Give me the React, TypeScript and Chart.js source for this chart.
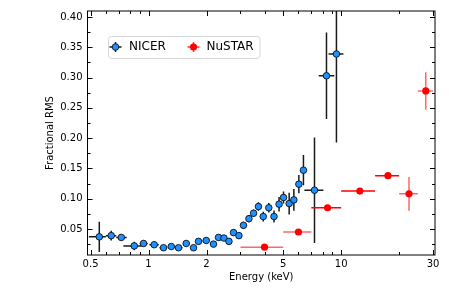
import React, { useEffect, useRef } from "react";
import { Chart, registerables } from "chart.js";
Chart.register(...registerables);

// ---------- data ----------
const nicerEnergy = [0.555, 0.64, 0.722, 0.843, 0.942, 1.07, 1.196, 1.312, 1.431, 1.569, 1.712, 1.817, 1.993, 2.174, 2.308, 2.462, 2.614, 2.761, 2.945, 3.11, 3.32, 3.51, 3.72, 3.94, 4.21, 4.48, 4.76, 5.02, 5.37, 5.68, 6.03, 6.37, 7.27, 8.39, 9.45];
const nicerRms = [0.037, 0.039, 0.036, 0.022, 0.026, 0.024, 0.019, 0.021, 0.019, 0.026, 0.019, 0.0295, 0.031, 0.025, 0.036, 0.035, 0.0295, 0.044, 0.039, 0.056, 0.067, 0.076, 0.087, 0.0705, 0.085, 0.0705, 0.091, 0.102, 0.092, 0.098, 0.124, 0.147, 0.114, 0.303, 0.339];
const nicerRmsErr = [0.025, 0.008, 0.005, 0.007, 0.005, 0.005, 0.004, 0.004, 0.004, 0.005, 0.005, 0.005, 0.005, 0.005, 0.005, 0.005, 0.005, 0.005, 0.005, 0.006, 0.006, 0.006, 0.007, 0.008, 0.008, 0.01, 0.012, 0.01, 0.018, 0.018, 0.015, 0.025, 0.087, 0.0715, 0.146];
const nicerELo = [0.49, 0.6, 0.68, 0.74, 0.9, 1.01, 1.14, 1.26, 1.38, 1.51, 1.65, 1.77, 1.91, 2.09, 2.25, 2.39, 2.55, 2.69, 2.86, 3.03, 3.22, 3.42, 3.62, 3.83, 4.08, 4.35, 4.62, 4.9, 5.2, 5.52, 5.85, 6.2, 6.44, 7.65, 8.6];
const nicerEHi = [0.6, 0.68, 0.77, 0.92, 0.99, 1.13, 1.25, 1.37, 1.5, 1.64, 1.77, 1.9, 2.08, 2.24, 2.38, 2.54, 2.69, 2.85, 3.03, 3.22, 3.42, 3.62, 3.83, 4.08, 4.35, 4.62, 4.9, 5.2, 5.52, 5.85, 6.2, 6.55, 8.09, 9.21, 10.27];

const nustarEnergy = [4.0, 6.0, 8.5, 12.5, 17.5, 22.5, 27.5];
const nustarRms = [0.02, 0.045, 0.085, 0.1126, 0.138, 0.108, 0.278];
const nustarRmsErr = [0.002, 0.003, 0.003, 0.003, 0.004, 0.028, 0.031];
const nustarELo = [3, 5, 7, 10, 15, 20, 25];
const nustarEHi = [5, 7, 10, 15, 20, 25, 30];
const nustarBarAlpha = [0.6, 0.6, 1, 1, 1, 0.6, 0.6];

const xTickValues = [0.5, 1, 2, 5, 10, 30];
const xMinorTicks = [0.6, 0.7, 0.8, 0.9, 3, 4, 6, 7, 8, 9, 20];
const yTickValues = [0.05, 0.1, 0.15, 0.2, 0.25, 0.3, 0.35, 0.4];
const yMinorTicks = [0.025, 0.075, 0.125, 0.175, 0.225, 0.275, 0.325, 0.375];

const FONT = "'DejaVu Sans', sans-serif";
const NICER_BLUE = "#1e90ff";

const errorBarPlugin = {
  id: "errorBars",
  beforeDatasetsDraw(chart: any) {
    const { ctx, chartArea, scales } = chart;
    const xs = scales.x, ys = scales.y;
    ctx.save();
    ctx.beginPath();
    ctx.rect(chartArea.left, chartArea.top, chartArea.right - chartArea.left, chartArea.bottom - chartArea.top);
    ctx.clip();
    ctx.lineWidth = 1.5;
    const drawSet = (E: number[], V: number[], Err: number[], Lo: number[], Hi: number[], color: (i: number) => string) => {
      for (let i = 0; i < E.length; i++) {
        ctx.strokeStyle = color(i);
        const x = xs.getPixelForValue(E[i]);
        const y = ys.getPixelForValue(V[i]);
        ctx.beginPath();
        ctx.moveTo(xs.getPixelForValue(Lo[i]), y);
        ctx.lineTo(xs.getPixelForValue(Hi[i]), y);
        ctx.moveTo(x, ys.getPixelForValue(V[i] - Err[i]));
        ctx.lineTo(x, ys.getPixelForValue(V[i] + Err[i]));
        ctx.stroke();
      }
    };
    drawSet(nicerEnergy, nicerRms, nicerRmsErr, nicerELo, nicerEHi, () => "#1a1a1a");
    drawSet(nustarEnergy, nustarRms, nustarRmsErr, nustarELo, nustarEHi, (i) => `rgba(255,0,0,${nustarBarAlpha[i]})`);
    ctx.restore();
  },
};

const framePlugin = {
  id: "frame",
  afterDatasetsDraw(chart: any) {
    const { ctx, chartArea, scales } = chart;
    const { left, right, top, bottom } = chartArea;
    const xs = scales.x, ys = scales.y;
    ctx.save();
    ctx.strokeStyle = "#000";
    ctx.lineWidth = 1;
    ctx.strokeRect(left, top, right - left, bottom - top);
    const major = 5, minor = 3;
    ctx.beginPath();
    const xt = (v: number, len: number) => {
      const x = Math.round(xs.getPixelForValue(v)) + 0.5;
      ctx.moveTo(x, bottom); ctx.lineTo(x, bottom - len);
      ctx.moveTo(x, top); ctx.lineTo(x, top + len);
    };
    const yt = (v: number, len: number) => {
      const y = Math.round(ys.getPixelForValue(v)) + 0.5;
      ctx.moveTo(left, y); ctx.lineTo(left + len, y);
      ctx.moveTo(right, y); ctx.lineTo(right - len, y);
    };
    xTickValues.forEach((v) => xt(v, major));
    xMinorTicks.forEach((v) => xt(v, minor));
    yTickValues.forEach((v) => yt(v, major));
    yMinorTicks.forEach((v) => yt(v, minor));
    ctx.stroke();
    ctx.restore();
  },
};

const legendPlugin = {
  id: "customLegend",
  afterDraw(chart: any) {
    const { ctx } = chart;
    ctx.save();
    const bx = 108.5, by = 36.5, bw = 151.5, bh = 22, r = 3;
    ctx.beginPath();
    ctx.moveTo(bx + r, by);
    ctx.arcTo(bx + bw, by, bx + bw, by + bh, r);
    ctx.arcTo(bx + bw, by + bh, bx, by + bh, r);
    ctx.arcTo(bx, by + bh, bx, by, r);
    ctx.arcTo(bx, by, bx + bw, by, r);
    ctx.closePath();
    ctx.fillStyle = "rgba(255,255,255,0.8)";
    ctx.fill();
    ctx.strokeStyle = "#d6d6d6";
    ctx.lineWidth = 1;
    ctx.stroke();

    const cy = 47;
    // NICER marker
    const m1 = 115.5;
    ctx.lineWidth = 1.5;
    ctx.strokeStyle = "#1a1a1a";
    ctx.beginPath();
    ctx.moveTo(m1 - 6, cy); ctx.lineTo(m1 + 6, cy);
    ctx.moveTo(m1, cy - 5); ctx.lineTo(m1, cy + 5);
    ctx.stroke();
    ctx.beginPath();
    ctx.arc(m1, cy, 3.3, 0, Math.PI * 2);
    ctx.fillStyle = NICER_BLUE;
    ctx.fill();
    ctx.lineWidth = 0.8;
    ctx.strokeStyle = "#000";
    ctx.stroke();
    // NuSTAR marker
    const m2 = 193.5;
    ctx.lineWidth = 1.5;
    ctx.strokeStyle = "rgba(255,0,0,0.8)";
    ctx.beginPath();
    ctx.moveTo(m2 - 6, cy); ctx.lineTo(m2 + 6, cy);
    ctx.moveTo(m2, cy - 5); ctx.lineTo(m2, cy + 5);
    ctx.stroke();
    ctx.beginPath();
    ctx.arc(m2, cy, 3.6, 0, Math.PI * 2);
    ctx.fillStyle = "#ff0000";
    ctx.fill();

    ctx.fillStyle = "#000";
    ctx.font = `12px ${FONT}`;
    ctx.textBaseline = "middle";
    ctx.textAlign = "left";
    ctx.fillText("NICER", 129, cy);
    ctx.fillText("NuSTAR", 206.5, cy);
    ctx.restore();
  },
};

export default function App() {
  const ref = useRef<HTMLCanvasElement | null>(null);
  useEffect(() => {
    if (!ref.current) return;
    const chart = new Chart(ref.current, {
      type: "scatter",
      data: {
        datasets: [
          {
            label: "NICER",
            data: nicerEnergy.map((e, i) => ({ x: e, y: nicerRms[i] })),
            pointRadius: 3.3,
            pointBackgroundColor: NICER_BLUE,
            pointBorderColor: "#000",
            pointBorderWidth: 0.8,
            showLine: false,
          },
          {
            label: "NuSTAR",
            data: nustarEnergy.map((e, i) => ({ x: e, y: nustarRms[i] })),
            pointRadius: 3.6,
            pointBackgroundColor: "#ff0000",
            pointBorderColor: "#ff0000",
            pointBorderWidth: 0,
            showLine: false,
          },
        ],
      },
      options: {
        responsive: false,
        animation: false,
        devicePixelRatio: 1,
        layout: { padding: { left: 38, top: 9.5, right: 14, bottom: 0 } },
        plugins: { legend: { display: false }, tooltip: { enabled: false } },
        scales: {
          x: {
            type: "logarithmic",
            min: 0.482,
            max: 30.7,
            grid: { display: false, drawTicks: false },
            border: { display: false },
            ticks: {
              font: { family: FONT, size: 10 },
              color: "#000",
              padding: 3,
              autoSkip: false,
              maxRotation: 0,
              callback: (v: any) => String(v),
            },
            afterBuildTicks: (s: any) => {
              s.ticks = xTickValues.map((v) => ({ value: v }));
            },
            afterFit: (s: any) => {
              s.height = 44;
            },
            title: {
              display: true,
              text: "Energy (keV)",
              font: { family: FONT, size: 10 },
              color: "#000",
              padding: { top: 0, bottom: 16 },
            },
          },
          y: {
            type: "linear",
            min: 0.007,
            max: 0.41,
            grid: { display: false, drawTicks: false },
            border: { display: false },
            ticks: {
              font: { family: FONT, size: 10 },
              color: "#000",
              padding: 5,
              autoSkip: false,
              callback: (v: any) => Number(v).toFixed(2),
            },
            afterBuildTicks: (s: any) => {
              s.ticks = yTickValues.map((v) => ({ value: v }));
            },
            afterFit: (s: any) => {
              s.width = 49.5;
            },
            title: {
              display: true,
              text: "Fractional RMS",
              font: { family: FONT, size: 10 },
              color: "#000",
              padding: { top: 6, bottom: 0 },
            },
          },
        },
      },
      plugins: [errorBarPlugin, framePlugin, legendPlugin],
    } as any);
    return () => chart.destroy();
  }, []);
  return (
    <div style={{ position: "fixed", left: 0, top: 0, width: 449, height: 299, background: "#fff" }}>
      <canvas ref={ref} width={449} height={299} style={{ display: "block", width: 449, height: 299 }} />
    </div>
  );
}
